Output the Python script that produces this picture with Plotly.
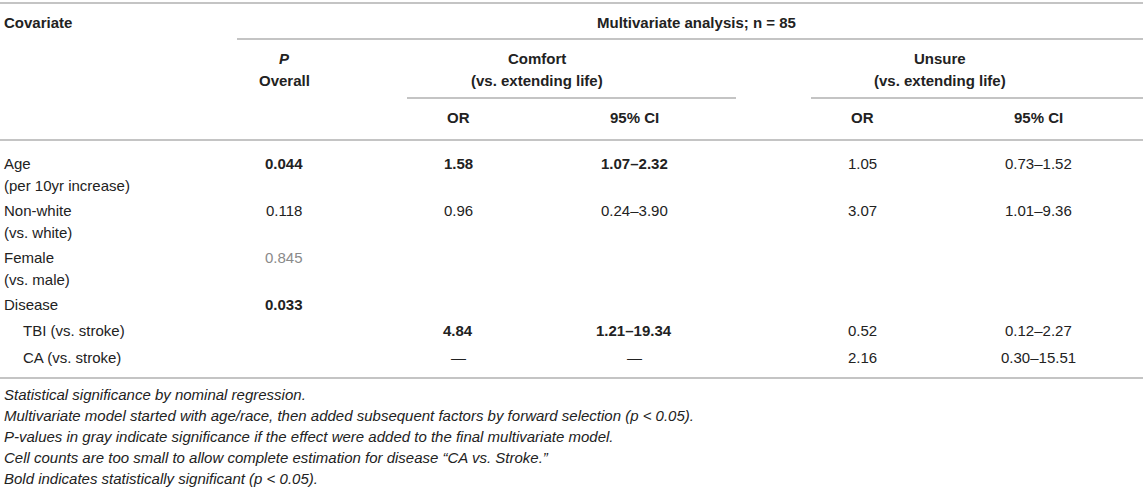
import plotly.graph_objects as go

# Table content
covariates = ["Age", "Non-white", "Female", "Disease", "TBI (vs. stroke)", "CA (vs. stroke)"]
sublabels = ["(per 10yr increase)", "(vs. white)", "(vs. male)", "", "", ""]
indented = [False, False, False, False, True, True]

p_overall = ["0.044", "0.118", "0.845", "0.033", "", ""]
p_bold = [True, False, False, True, False, False]
p_gray = [False, False, True, False, False, False]

comfort_or = ["1.58", "0.96", "", "", "4.84", "—"]
comfort_ci = ["1.07–2.32", "0.24–3.90", "", "", "1.21–19.34", "—"]
comfort_bold = [True, False, False, False, True, False]

unsure_or = ["1.05", "3.07", "", "", "0.52", "2.16"]
unsure_ci = ["0.73–1.52", "1.01–9.36", "", "", "0.12–2.27", "0.30–15.51"]

footnotes = [
    "Statistical significance by nominal regression.",
    "Multivariate model started with age/race, then added subsequent factors by forward selection (p < 0.05).",
    "P-values in gray indicate significance if the effect were added to the final multivariate model.",
    "Cell counts are too small to allow complete estimation for disease “CA vs. Stroke.”",
    "Bold indicates statistically significant (p < 0.05).",
]

# Layout of the table (pixel grid)
W, H = 1143, 487
FONT = "Liberation Sans"
FS = 15
TXT = "#222222"
GRAY = "#8a8a8a"
RULE = "#c4c4c4"
col_x = {"p": 284, "c_or": 458, "c_ci": 634, "u_or": 862, "u_ci": 1038}
row_y = [163, 210, 257, 304, 330, 357]
sub_dy = 22
foot_y0, foot_dy = 394, 21.2

annotations = []


def cell(x, y, text, anchor="center", color=TXT, size=FS):
    annotations.append(dict(
        x=x, y=y, xref="x", yref="y", text=text, showarrow=False,
        xanchor=anchor, yanchor="middle", borderpad=0,
        font=dict(family=FONT, size=size, color=color),
    ))


def b(s, on=True):
    return f"<b>{s}</b>" if (on and s) else s


# Header
cell(3, 22, b("Covariate"), anchor="left")
cell(696, 22, b("Multivariate analysis; n = 85"))
cell(col_x["p"], 58, "<b><i>P</i></b>")
cell(col_x["p"], 80, b("Overall"))
cell(537, 58, b("Comfort"))
cell(537, 80, b("(vs. extending life)"))
cell(940, 58, b("Unsure"))
cell(940, 80, b("(vs. extending life)"))
for key in ["c_or", "u_or"]:
    cell(col_x[key], 117, b("OR"))
for key in ["c_ci", "u_ci"]:
    cell(col_x[key], 117, b("95% CI"))

# Body
for i, y in enumerate(row_y):
    cell(22 if indented[i] else 3, y, covariates[i], anchor="left")
    if sublabels[i]:
        cell(3, y + sub_dy, sublabels[i], anchor="left")
    if p_overall[i]:
        cell(col_x["p"], y, b(p_overall[i], p_bold[i]), color=GRAY if p_gray[i] else TXT)
    if comfort_or[i]:
        cell(col_x["c_or"], y, b(comfort_or[i], comfort_bold[i]))
    if comfort_ci[i]:
        cell(col_x["c_ci"], y, b(comfort_ci[i], comfort_bold[i]))
    if unsure_or[i]:
        cell(col_x["u_or"], y, unsure_or[i])
    if unsure_ci[i]:
        cell(col_x["u_ci"], y, unsure_ci[i])

# Footnotes
for k, note in enumerate(footnotes):
    cell(3, foot_y0 + k * foot_dy, f"<i>{note}</i>", anchor="left")

# Horizontal rules
rules = [(0, W, 3), (237, W, 39), (407, 736, 98), (811, W, 98), (0, W, 140), (0, W, 378)]
shapes = [dict(type="line", xref="x", yref="y", x0=x0, x1=x1, y0=y, y1=y,
               line=dict(color=RULE, width=2)) for x0, x1, y in rules]

fig = go.Figure()
fig.add_trace(go.Scatter(x=[0, W], y=[0, H], mode="markers",
                         marker=dict(opacity=0), hoverinfo="skip", showlegend=False))
fig.update_layout(
    width=W, height=H,
    margin=dict(l=0, r=0, t=0, b=0),
    paper_bgcolor="white", plot_bgcolor="white",
    xaxis=dict(range=[0, W], visible=False, fixedrange=True),
    yaxis=dict(range=[H, 0], visible=False, fixedrange=True),
    annotations=annotations, shapes=shapes,
)

fig.write_html("out.html", config={"displayModeBar": False},
               post_script="document.body.style.margin='0';document.body.style.overflow='hidden';")
